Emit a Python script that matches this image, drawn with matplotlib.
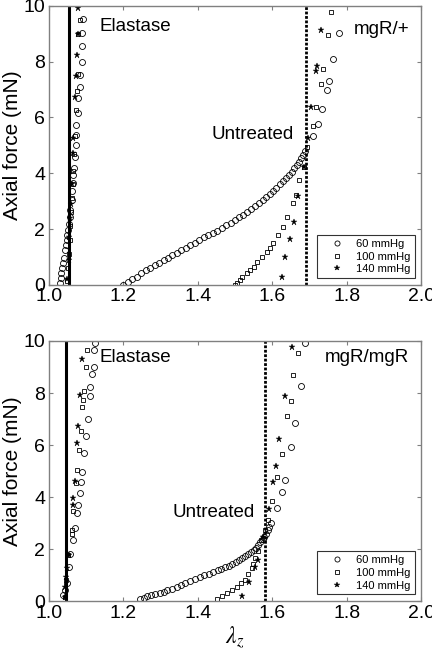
import matplotlib
matplotlib.use("Agg")
import matplotlib.pyplot as plt

plt.rcParams['font.family'] = ['Liberation Sans', 'DejaVu Sans']
plt.rcParams['mathtext.fontset'] = 'stix'

pressures = ["60 mmHg", "100 mmHg", "140 mmHg"]

# ---- mgR/+ (top) ----
top_untr_60_x = [1.200, 1.212, 1.224, 1.236, 1.248, 1.260, 1.272, 1.284, 1.296, 1.308, 1.320, 1.332,
                 1.344, 1.356, 1.368, 1.380, 1.392, 1.404, 1.416, 1.428, 1.440, 1.452, 1.464, 1.476,
                 1.488, 1.500, 1.511, 1.522, 1.533, 1.544, 1.554, 1.564, 1.574, 1.584, 1.593, 1.602,
                 1.611, 1.620, 1.628, 1.636, 1.644, 1.652, 1.659, 1.666, 1.672, 1.678, 1.683, 1.688,
                 1.709, 1.722, 1.734, 1.746, 1.753, 1.764, 1.778]
top_untr_60_y = [0.00, 0.10, 0.20, 0.30, 0.42, 0.52, 0.62, 0.71, 0.80, 0.89, 0.98, 1.07,
                 1.16, 1.25, 1.34, 1.43, 1.52, 1.61, 1.70, 1.79, 1.87, 1.95, 2.04, 2.13,
                 2.22, 2.32, 2.42, 2.52, 2.62, 2.73, 2.83, 2.93, 3.04, 3.15, 3.26, 3.37,
                 3.48, 3.60, 3.71, 3.82, 3.94, 4.06, 4.18, 4.30, 4.42, 4.54, 4.66, 4.80,
                 5.32, 5.76, 6.31, 6.99, 7.29, 8.10, 9.02]
top_untr_100_x = [1.500, 1.505, 1.513, 1.520, 1.531, 1.540, 1.551, 1.560, 1.572, 1.585, 1.594, 1.603,
                  1.616, 1.628, 1.639, 1.655, 1.664, 1.673, 1.685, 1.693, 1.709, 1.718, 1.731,
                  1.736, 1.749, 1.758]
top_untr_100_y = [0.00, 0.08, 0.18, 0.30, 0.42, 0.54, 0.66, 0.82, 1.01, 1.19, 1.33, 1.49,
                  1.79, 2.09, 2.45, 2.93, 3.23, 3.76, 4.24, 4.96, 5.70, 6.37, 7.20,
                  7.73, 8.96, 9.77]
top_untr_140_x = [1.625, 1.635, 1.648, 1.658, 1.668, 1.684, 1.697, 1.704, 1.718, 1.720, 1.731]
top_untr_140_y = [0.30, 0.99, 1.65, 2.25, 3.20, 4.24, 5.26, 6.39, 7.65, 7.83, 9.14]

top_el_60_x = [1.030, 1.032, 1.034, 1.036, 1.038, 1.040, 1.043, 1.045, 1.048, 1.050, 1.052, 1.054,
               1.056, 1.058, 1.061, 1.063, 1.065, 1.065, 1.067, 1.070, 1.073, 1.073, 1.074, 1.079,
               1.079, 1.083, 1.083, 1.088, 1.088, 1.088, 1.092]
top_el_60_y = [0.06, 0.25, 0.42, 0.60, 0.78, 0.95, 1.25, 1.42, 1.61, 1.80, 1.97, 2.20,
               2.45, 2.70, 3.05, 3.35, 3.65, 3.94, 4.18, 4.60, 5.02, 5.38, 5.73, 6.15,
               6.69, 7.10, 7.53, 8.00, 8.55, 9.02, 9.53]
top_el_100_x = [1.050, 1.052, 1.054, 1.056, 1.058, 1.060, 1.062, 1.064, 1.066, 1.068, 1.070, 1.072,
                1.076, 1.078, 1.079, 1.083]
top_el_100_y = [0.15, 0.60, 1.10, 1.60, 2.10, 2.60, 3.10, 3.60, 4.10, 4.70, 5.32, 6.27,
                6.95, 7.55, 9.00, 9.50]
top_el_140_x = [1.050, 1.053, 1.055, 1.057, 1.059, 1.061, 1.064, 1.066, 1.070, 1.074, 1.076, 1.078, 1.079]
top_el_140_y = [0.20, 0.90, 1.70, 2.40, 2.90, 3.60, 4.72, 5.26, 6.75, 7.47, 8.24, 9.00, 9.92]

# ---- mgR/mgR (bottom) ----
bot_untr_60_x = [1.245, 1.255, 1.265, 1.275, 1.285, 1.298, 1.308, 1.318, 1.330, 1.343, 1.355, 1.367,
                 1.380, 1.393, 1.406, 1.418, 1.430, 1.442, 1.453, 1.463, 1.473, 1.483, 1.493, 1.503,
                 1.512, 1.520, 1.528, 1.536, 1.543, 1.550, 1.556, 1.562, 1.568, 1.574, 1.579, 1.584,
                 1.588, 1.592, 1.597, 1.613, 1.626, 1.634, 1.651, 1.661, 1.677, 1.689]
bot_untr_60_y = [0.10, 0.14, 0.18, 0.22, 0.26, 0.31, 0.36, 0.41, 0.47, 0.54, 0.61, 0.69,
                 0.77, 0.85, 0.93, 1.00, 1.06, 1.12, 1.18, 1.24, 1.30, 1.37, 1.44, 1.51,
                 1.58, 1.65, 1.72, 1.80, 1.88, 1.97, 2.06, 2.16, 2.26, 2.37, 2.48, 2.60,
                 2.72, 2.84, 3.01, 3.59, 4.20, 4.65, 5.94, 6.86, 8.27, 9.93]
bot_untr_100_x = [1.451, 1.465, 1.478, 1.491, 1.505, 1.516, 1.527, 1.534, 1.545, 1.547, 1.553, 1.561,
                  1.570, 1.580, 1.588, 1.599, 1.613, 1.626, 1.639, 1.651, 1.657, 1.669]
bot_untr_100_y = [0.10, 0.20, 0.30, 0.42, 0.55, 0.68, 0.81, 1.06, 1.26, 1.42, 1.65, 1.94,
                  2.35, 2.75, 3.12, 3.85, 4.76, 5.65, 7.13, 7.70, 8.69, 9.53]
bot_untr_140_x = [1.519, 1.538, 1.555, 1.561, 1.574, 1.591, 1.603, 1.610, 1.619, 1.634, 1.653]
bot_untr_140_y = [0.19, 0.74, 1.30, 1.60, 2.47, 3.56, 4.59, 5.19, 6.22, 7.88, 9.78]

bot_el_60_x = [1.038, 1.043, 1.048, 1.054, 1.058, 1.064, 1.070, 1.076, 1.079, 1.083, 1.086, 1.088,
               1.095, 1.099, 1.104, 1.110, 1.110, 1.116, 1.121, 1.122, 1.124]
bot_el_60_y = [0.23, 0.42, 0.68, 1.32, 1.83, 2.35, 2.80, 3.37, 3.69, 4.17, 4.59, 4.97,
               5.70, 6.35, 7.00, 7.88, 8.24, 8.73, 8.99, 9.65, 9.91]
bot_el_100_x = [1.043, 1.045, 1.052, 1.061, 1.063, 1.065, 1.074, 1.077, 1.081, 1.086, 1.090, 1.092,
                1.094, 1.099, 1.103]
bot_el_100_y = [0.17, 0.81, 1.77, 2.60, 2.73, 3.47, 4.53, 5.06, 5.81, 6.54, 7.45, 7.73,
                8.09, 9.01, 9.65]
bot_el_140_x = [1.043, 1.043, 1.046, 1.048, 1.054, 1.065, 1.065, 1.070, 1.077, 1.079, 1.083, 1.088]
bot_el_140_y = [0.17, 0.55, 0.94, 1.26, 1.77, 3.70, 3.97, 4.62, 6.09, 6.73, 7.92, 9.30]

elastase_ref = [1.055, 1.047]
untreated_ref = [1.69, 1.58]
genotypes = ["mgR/+", "mgR/mgR"]

fig = plt.figure(figsize=(4.32, 6.52), dpi=100)
ax_top = fig.add_axes([0.113, 0.563, 0.862, 0.428])
ax_bot = fig.add_axes([0.113, 0.078, 0.862, 0.399])

panels = [
    (ax_top, top_untr_60_x, top_untr_60_y, top_untr_100_x, top_untr_100_y, top_untr_140_x, top_untr_140_y,
     top_el_60_x, top_el_60_y, top_el_100_x, top_el_100_y, top_el_140_x, top_el_140_y),
    (ax_bot, bot_untr_60_x, bot_untr_60_y, bot_untr_100_x, bot_untr_100_y, bot_untr_140_x, bot_untr_140_y,
     bot_el_60_x, bot_el_60_y, bot_el_100_x, bot_el_100_y, bot_el_140_x, bot_el_140_y),
]

circ = dict(marker='o', ms=4.3, mfc='none', mec='black', mew=0.6, ls='none')
sq = dict(marker='s', ms=3.4, mfc='none', mec='black', mew=0.6, ls='none')
star = dict(marker='*', ms=4.5, mfc='black', mec='black', mew=0.3, ls='none')

# label positions (axes fraction)
elastase_pos = [(0.137, 0.925), (0.137, 0.938)]
geno_pos = [(0.968, 0.914), (0.968, 0.935)]
untr_pos = [(0.438, 0.538), (0.333, 0.342)]

for i, p in enumerate(panels):
    ax = p[0]
    ax.plot(p[1], p[2], label=pressures[0], **circ)
    ax.plot(p[3], p[4], label=pressures[1], **sq)
    ax.plot(p[5], p[6], label=pressures[2], **star)
    ax.plot(p[7], p[8], **circ)
    ax.plot(p[9], p[10], **sq)
    ax.plot(p[11], p[12], **star)
    ax.axvline(elastase_ref[i], color='black', lw=2.2)
    ax.axvline(untreated_ref[i], color='black', lw=2.0, ls=(0, (1, 0.6)))

    ax.set_xlim(1.0, 2.0)
    ax.set_ylim(0, 10)
    ax.set_xticks([1.0, 1.2, 1.4, 1.6, 1.8, 2.0])
    ax.set_yticks([0, 2, 4, 6, 8, 10])
    ax.tick_params(direction='in', top=True, right=True, length=3, width=0.8,
                   color='#808080', labelsize=14, pad=2.5)
    for s in ax.spines.values():
        s.set_color('#808080')
        s.set_linewidth(1.0)
    ax.set_ylabel("Axial force (mN)", fontsize=15, labelpad=1)

    ax.text(*elastase_pos[i], "Elastase", transform=ax.transAxes, fontsize=13.5, va='center')
    ax.text(*geno_pos[i], genotypes[i], transform=ax.transAxes, fontsize=13.5, va='center', ha='right')
    ax.text(*untr_pos[i], "Untreated", transform=ax.transAxes, fontsize=13.5, va='center')

    leg = ax.legend(loc='lower right', fontsize=8, frameon=True, fancybox=False, edgecolor='black',
                    handlelength=3.0, handletextpad=0.2, borderpad=0.35, labelspacing=0.25,
                    borderaxespad=0.6, markerscale=0.85)
    leg.get_frame().set_linewidth(0.8)

ax_bot.set_xlabel(r"$\lambda_z$", fontsize=17, labelpad=2)

fig.savefig("out.png", dpi=100)
